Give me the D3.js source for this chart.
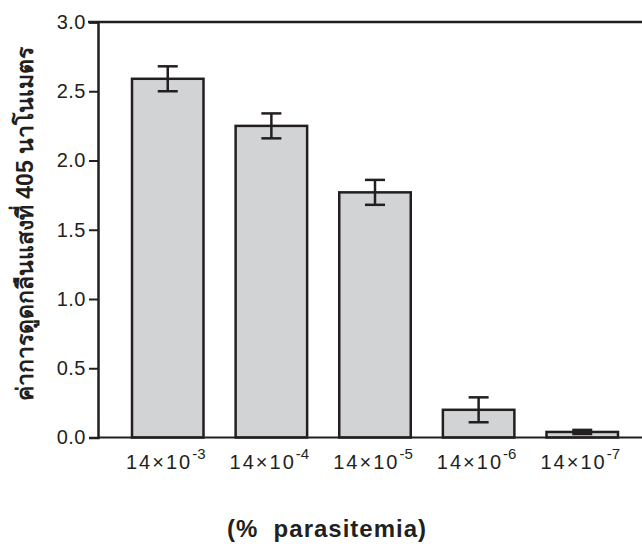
<!DOCTYPE html>
<html>
<head>
<meta charset="utf-8">
<script src="https://cdn.jsdelivr.net/npm/d3@7"></script>
<style>
	body { margin: 0; background: #fff; }
	svg text { font-family: "Liberation Sans", Arial, sans-serif; fill: #231f20; }
</style>
</head>
<body>
<div class="chart"></div>
<script>
// values
const dilutions = ['-3', '-4', '-5', '-6', '-7'];
const absorbance = [2.59, 2.25, 1.77, 0.20, 0.04];
const errors = [0.09, 0.09, 0.09, 0.09, 0.015];
const yTicks = [0, 0.5, 1.0, 1.5, 2.0, 2.5, 3.0];

const data = dilutions.map((d, i) => ({exp: d, value: absorbance[i], err: errors[i]}));

const width = 642, height = 546;
const margin = ({top: 22, right: 0, bottom: 108, left: 98});

const svg = d3.select('.chart')
	.append('svg')
	.attr('width', width)
	.attr('height', height);

const x = d3.scaleBand()
	.domain(dilutions)
	.range([132, 618])
	.paddingInner(0.31)
	.paddingOuter(0);

const y = d3.scaleLinear()
	.domain([0, 3])
	.range([height - margin.bottom - 0.5, margin.top]);

// top frame line
svg.append('line')
	.attr('x1', margin.left - 10).attr('x2', width)
	.attr('y1', y(3)).attr('y2', y(3))
	.attr('stroke', '#231f20')
	.attr('stroke-width', 2.5);

// bars
svg.selectAll('rect.bar')
	.data(data)
	.enter()
	.append('rect')
	.attr('class', 'bar')
	.attr('x', d => x(d.exp))
	.attr('width', x.bandwidth())
	.attr('y', d => y(d.value))
	.attr('height', d => y(0) - y(d.value))
	.attr('fill', '#d2d3d5')
	.attr('stroke', '#231f20')
	.attr('stroke-width', 2.5);

// error bars
const capW = 20;
const eb = svg.selectAll('g.err')
	.data(data)
	.enter()
	.append('g')
	.attr('class', 'err')
	.attr('stroke', '#231f20')
	.attr('stroke-width', 2.5);

eb.append('line')
	.attr('x1', d => x(d.exp) + x.bandwidth() / 2)
	.attr('x2', d => x(d.exp) + x.bandwidth() / 2)
	.attr('y1', d => y(d.value + d.err))
	.attr('y2', d => y(Math.max(0, d.value - d.err)));

eb.append('line')
	.attr('x1', d => x(d.exp) + x.bandwidth() / 2 - capW / 2)
	.attr('x2', d => x(d.exp) + x.bandwidth() / 2 + capW / 2)
	.attr('y1', d => y(d.value + d.err))
	.attr('y2', d => y(d.value + d.err));

eb.append('line')
	.attr('x1', d => x(d.exp) + x.bandwidth() / 2 - capW / 2)
	.attr('x2', d => x(d.exp) + x.bandwidth() / 2 + capW / 2)
	.attr('y1', d => y(Math.max(0, d.value - d.err)))
	.attr('y2', d => y(Math.max(0, d.value - d.err)));

// y axis
const yAxis = svg.append('g')
	.attr('transform', 'translate(' + margin.left + ',0)')
	.call(d3.axisLeft(y).tickValues(yTicks).tickFormat(d3.format('.1f')).tickSizeOuter(0).tickSize(9).tickPadding(3));
yAxis.select('.domain').attr('stroke', '#231f20').attr('stroke-width', 2.5);
yAxis.selectAll('.tick line').attr('stroke', '#231f20').attr('stroke-width', 2);
yAxis.selectAll('.tick text')
	.attr('font-size', 20)
	.attr('letter-spacing', 0.5)
	.attr('fill', '#231f20');

// x axis line (runs to the right edge)
svg.append('line')
	.attr('x1', margin.left).attr('x2', width)
	.attr('y1', y(0)).attr('y2', y(0))
	.attr('stroke', '#231f20')
	.attr('stroke-width', 2);

// x tick labels 14x10^n
const xl = svg.selectAll('text.xl')
	.data(dilutions)
	.enter()
	.append('text')
	.attr('class', 'xl')
	.attr('x', d => x(d) + x.bandwidth() / 2 - 2)
	.attr('y', 469)
	.attr('text-anchor', 'middle')
	.attr('font-size', 20)
	.attr('letter-spacing', 2);
xl.append('tspan').text('14×10');
xl.append('tspan').attr('dy', -10).attr('font-size', 15).attr('letter-spacing', 0).text(d => d);

// axis titles
svg.append('text')
	.attr('transform', 'translate(33,' + 224 + ') rotate(-90)')
	.attr('text-anchor', 'middle')
	.attr('font-size', 23)
	.attr('font-weight', 'bold')
	.text('ค่าการดูดกลืนแสงที่ 405 นาโนเมตร');

svg.append('text')
	.attr('x', 327)
	.attr('y', 537)
	.attr('text-anchor', 'middle')
	.attr('font-size', 24)
	.attr('font-weight', 'bold')
	.attr('letter-spacing', 1)
	.attr('xml:space', 'preserve')
	.style('white-space', 'pre')
	.text('(%  parasitemia)');
</script>
</body>
</html>
